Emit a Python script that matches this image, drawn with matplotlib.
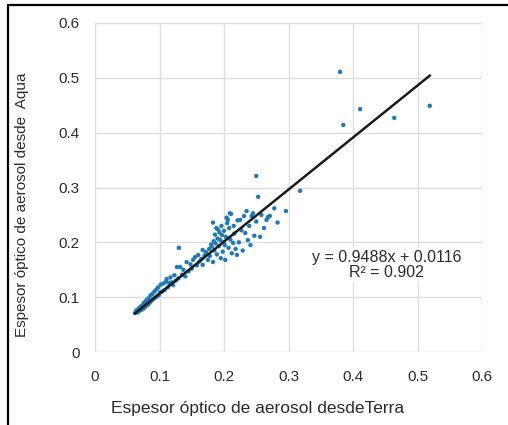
import matplotlib
matplotlib.use("Agg")
import matplotlib.pyplot as plt
from matplotlib.patches import Rectangle

plt.rcParams['font.family'] = ['Liberation Sans', 'DejaVu Sans']

# Data (Terra AOD vs Aqua AOD)
terra = [0.062,0.064,0.066,0.068,0.069,0.071,0.072,0.074,0.075,0.076,0.078,0.079,0.080,0.082,0.083,0.085,0.086,0.087,0.089,0.090,
         0.092,0.093,0.095,0.096,0.098,0.099,0.101,0.102,0.104,0.106,0.108,0.110,0.111,0.113,0.115,0.117,0.119,0.121,0.123,0.125,
         0.127,0.129,0.130,0.132,0.135,0.137,0.140,0.142,0.145,0.148,0.150,0.152,0.155,0.158,0.160,0.162,0.165,0.167,0.167,0.170,
         0.172,0.175,0.177,0.178,0.180,0.181,0.183,0.183,0.184,0.185,0.186,0.187,0.188,0.189,0.190,0.191,0.192,0.193,0.194,0.195,
         0.196,0.197,0.198,0.199,0.200,0.201,0.202,0.203,0.204,0.205,0.206,0.207,0.208,0.209,0.210,0.211,0.212,0.214,0.215,0.216,
         0.218,0.220,0.221,0.223,0.225,0.227,0.229,0.231,0.233,0.235,0.237,0.239,0.241,0.243,0.245,0.247,0.250,0.250,0.253,0.256,
         0.258,0.262,0.266,0.268,0.271,0.278,0.283,0.296,0.318,0.380,0.385,0.411,0.464,0.519]
aqua = [0.071,0.076,0.072,0.080,0.075,0.083,0.077,0.086,0.079,0.090,0.082,0.092,0.095,0.086,0.098,0.090,0.103,0.093,0.106,0.096,
        0.110,0.099,0.114,0.101,0.118,0.104,0.109,0.123,0.110,0.125,0.113,0.128,0.133,0.118,0.126,0.136,0.127,0.122,0.140,0.130,
        0.155,0.134,0.190,0.155,0.141,0.150,0.138,0.164,0.147,0.160,0.152,0.168,0.173,0.158,0.177,0.165,0.170,0.159,0.186,0.176,
        0.182,0.168,0.188,0.175,0.196,0.192,0.164,0.236,0.202,0.185,0.214,0.198,0.226,0.178,0.207,0.223,0.193,0.218,0.204,0.171,
        0.230,0.213,0.183,0.200,0.221,0.195,0.168,0.210,0.245,0.235,0.241,0.190,0.226,0.253,0.205,0.252,0.180,0.199,0.230,0.216,
        0.188,0.177,0.240,0.200,0.241,0.222,0.185,0.248,0.217,0.257,0.204,0.230,0.195,0.248,0.253,0.212,0.321,0.238,0.283,0.210,
        0.250,0.226,0.241,0.246,0.248,0.262,0.236,0.257,0.294,0.511,0.414,0.443,0.427,0.449]

slope = 0.9488
intercept = 0.0116
r2 = 0.902

ticks = [0, 0.1, 0.2, 0.3, 0.4, 0.5, 0.6]
tick_labels = ['0', '0.1', '0.2', '0.3', '0.4', '0.5', '0.6']

text_color = '#2b2b2b'

fig = plt.figure(figsize=(5.08, 4.25), dpi=100)
ax = fig.add_axes([95/508, 1-352/425, (482-95)/508, (352-23)/425])

ax.scatter(terra, aqua, s=10, color='#1f78b8', edgecolors='none', zorder=3)
x0, x1 = min(terra), max(terra)
ax.plot([x0, x1], [slope*x0 + intercept, slope*x1 + intercept], color='#1a1a1a', lw=1.8, zorder=4)

ax.set_xlim(0, 0.6)
ax.set_ylim(0, 0.6)
ax.set_xticks(ticks)
ax.set_xticklabels(tick_labels)
ax.set_yticks(ticks)
ax.set_yticklabels(tick_labels)
ax.grid(True, color='#dedede', lw=1.0, zorder=0)
ax.set_axisbelow(True)
for s in ax.spines.values():
    s.set_visible(False)
ax.tick_params(length=0, labelsize=11, colors=text_color, pad=11)
ax.tick_params(axis='x', pad=13)

ax.set_xlabel('Espesor óptico de aerosol desdeTerra', fontsize=12.5, color=text_color)
ax.xaxis.set_label_coords((258-95)/387, -(401-352)/329)
ax.set_ylabel('Espesor óptico de aerosol desde  Aqua', fontsize=11, color=text_color)
ax.yaxis.set_label_coords((29-95)/387, (352-205)/329)

ax.text(0.452, 0.159, f'y = {slope}x + {intercept}\nR² = {r2}', ha='center', va='center',
        fontsize=11.5, color=text_color, linespacing=1.05,
        bbox=dict(facecolor='white', edgecolor='none', pad=1))

# outer frame
fig.patches.append(Rectangle((8/508, -0.05), 1.2, 1.05 - 5/425, transform=fig.transFigure,
                             fill=False, edgecolor='black', lw=1.6))

fig.savefig('out.png', dpi=100)
